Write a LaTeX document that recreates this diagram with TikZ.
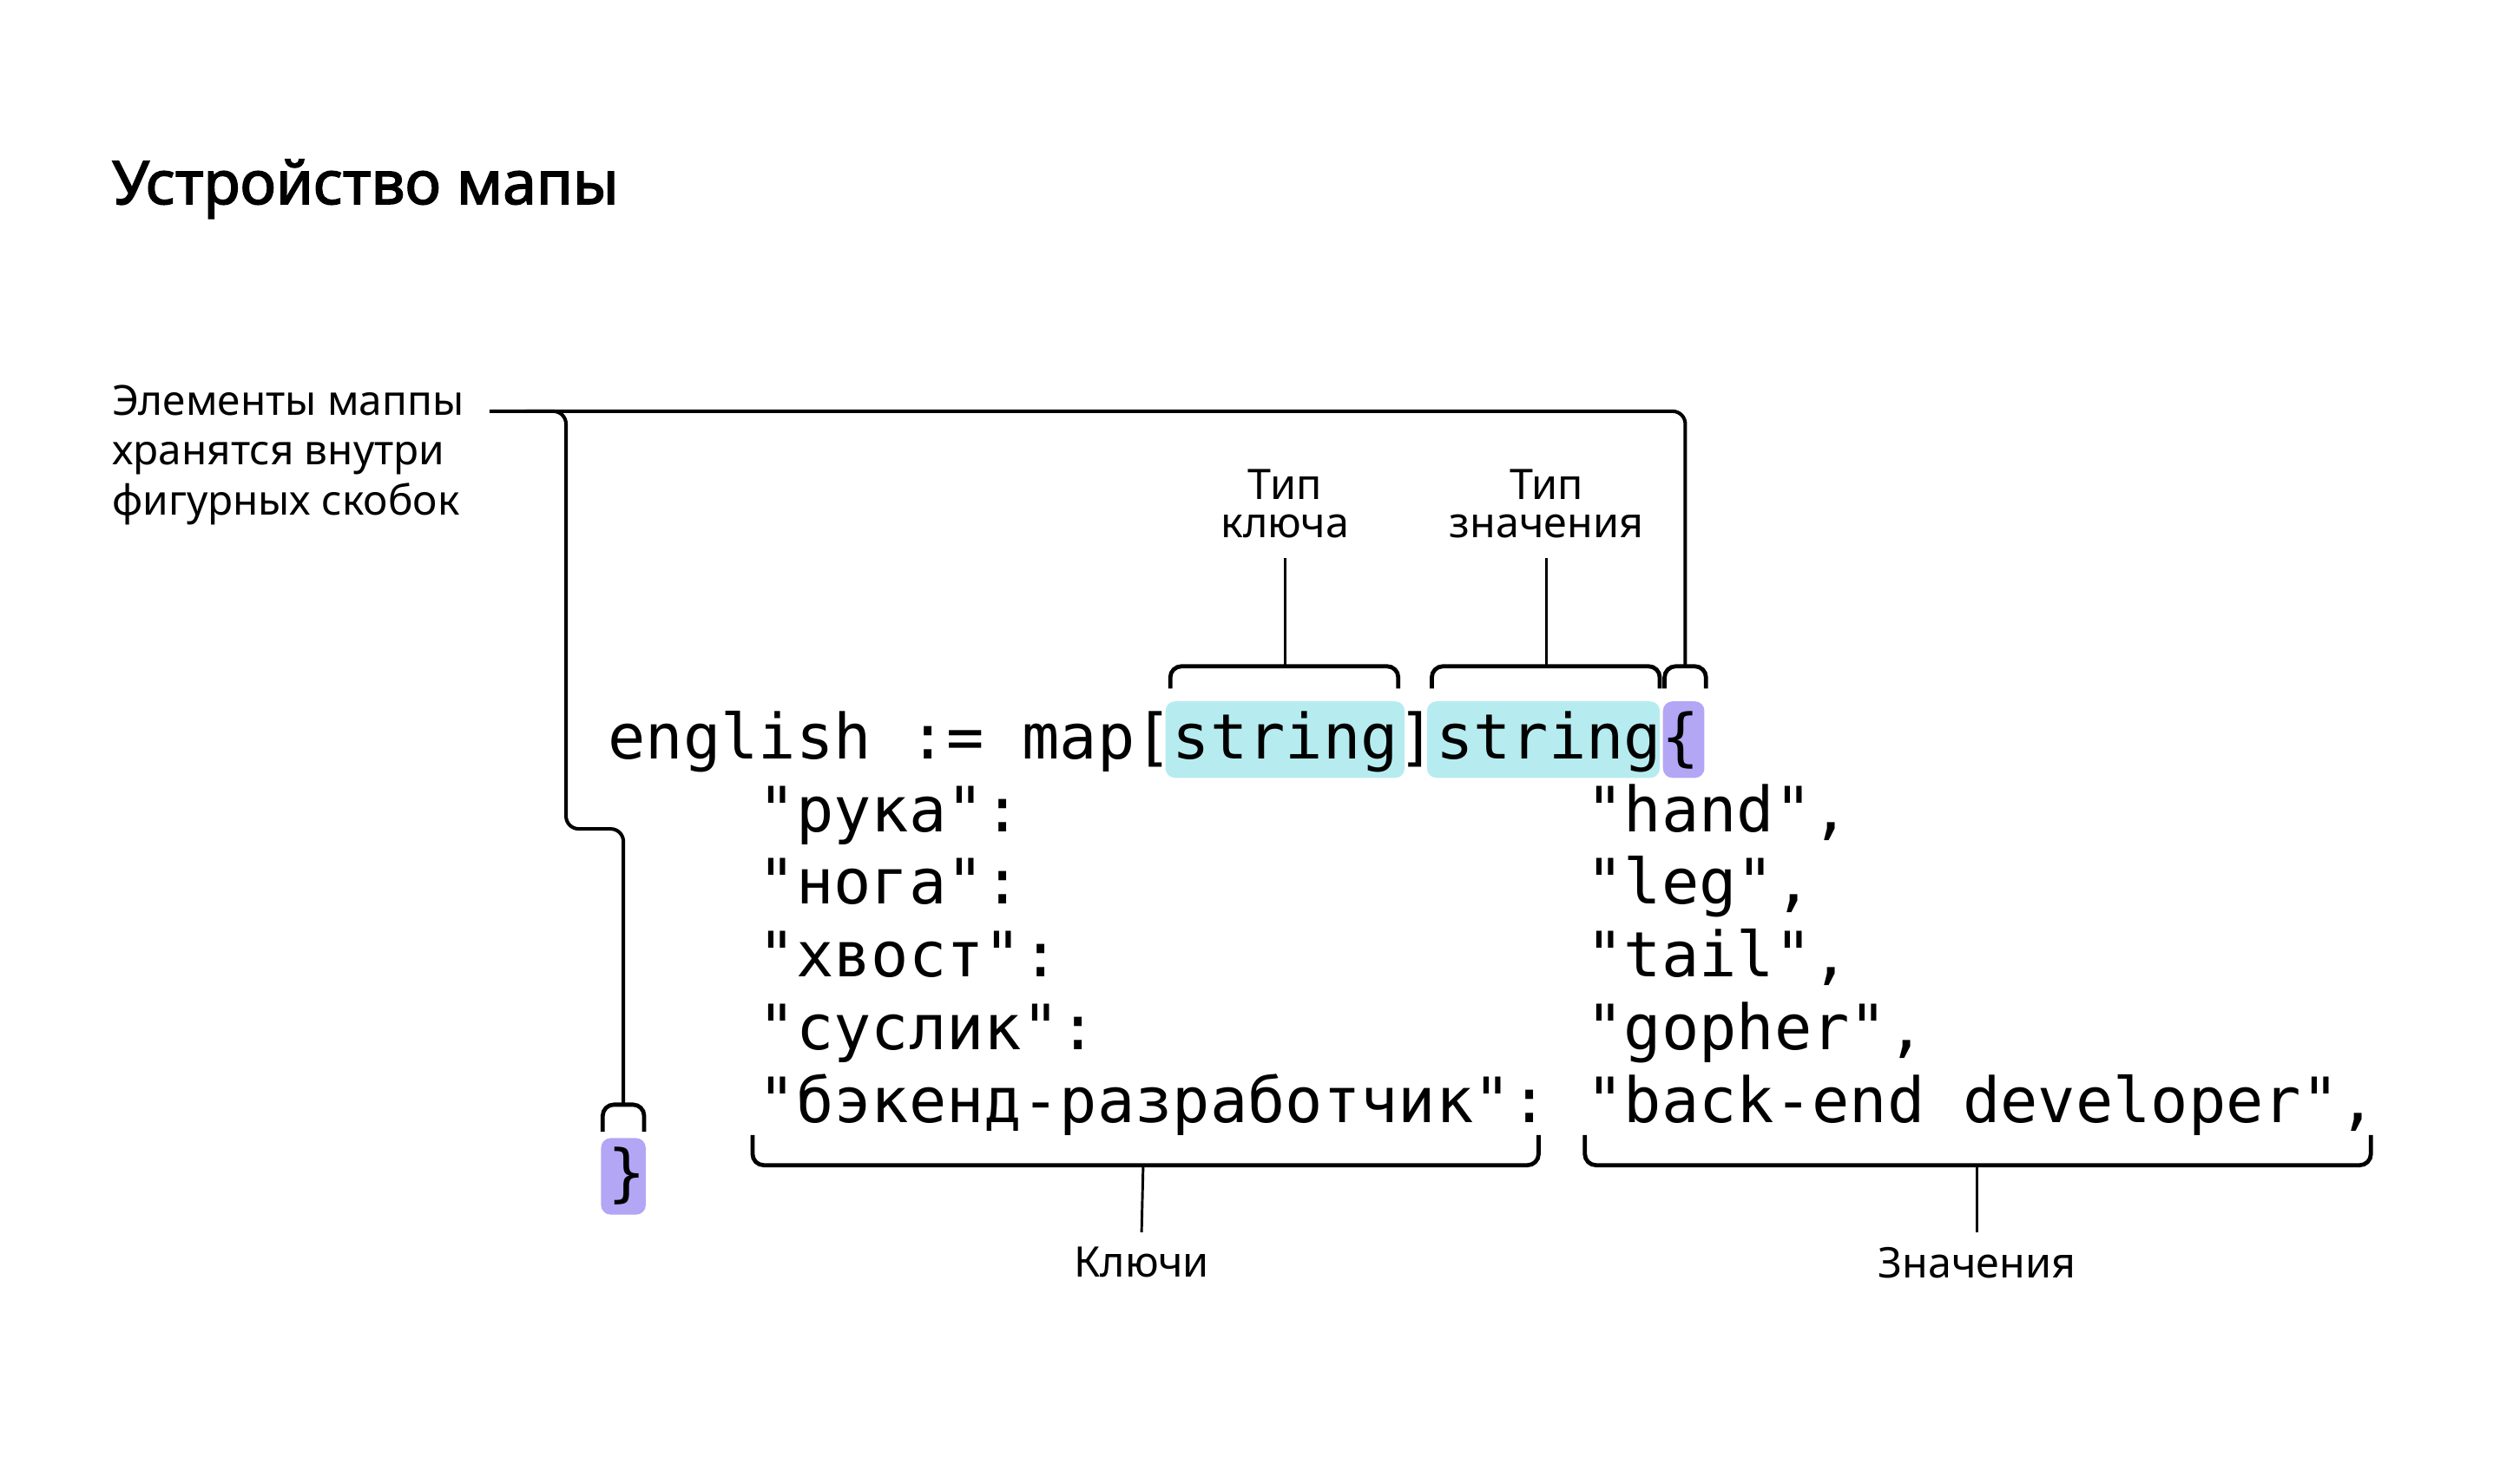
\documentclass[tikz,border=0pt]{standalone}
\usepackage{fontspec}
\setmainfont{Noto Sans}
\newfontfamily\titlefont{Noto Sans}[FakeBold=2.2]
\newfontfamily\codefont{DejaVu Sans Mono}
\definecolor{hlcyan}{HTML}{B6ECEF}
\definecolor{hlpurple}{HTML}{B3A6F5}
\begin{document}
\begin{tikzpicture}[x=0.5pt,y=-0.5pt,
  code/.style={anchor=base west,inner sep=0pt,font=\codefont\fontsize{19.6pt}{24pt}\selectfont},
  lbl/.style={inner sep=0pt,align=center,font=\fontsize{13.2pt}{12pt}\selectfont},
  hl/.style={rounded corners=3pt,inner sep=0pt,minimum height=24pt},
  brk/.style={line width=1.3pt,rounded corners=3.5pt},
  stem/.style={line width=0.8pt},
  conn/.style={line width=1.1pt,rounded corners=4pt}]
\useasboundingbox (0,0) rectangle (1568,931);
% title
\node[anchor=base west,inner sep=0pt,font=\titlefont\fontsize{18.9pt}{24pt}\selectfont] (title) at (70,128) {Устройство мапы};
% side label
\node[anchor=north west,inner sep=0pt,align=left,font=\fontsize{13pt}{15.75pt}\selectfont] (side) at (70,241) {Элементы маппы\\хранятся внутри\\фигурных скобок};
% highlights
\node[hl,fill=hlcyan,minimum width=75pt] (h1) at (806,464) {};
\node[hl,fill=hlcyan,minimum width=73pt] (h2) at (968,464) {};
\node[hl,fill=hlpurple,minimum width=13pt] (h3) at (1056,464) {};
\node[hl,fill=hlpurple,minimum width=14pt] (h4) at (391,738) {};
% code
\node[code] (l1) at (381,476) {english := map[string]string\{};
\node[code] (k1) at (475.4,521.6) {"рука":};
\node[code] (k2) at (475.4,567.2) {"нога":};
\node[code] (k3) at (475.4,612.8) {"хвост":};
\node[code] (k4) at (475.4,658.4) {"суслик":};
\node[code] (k5) at (475.4,704) {"бэкенд-разработчик":};
\node[code] (v1) at (994.6,521.6) {"hand",};
\node[code] (v2) at (994.6,567.2) {"leg",};
\node[code] (v3) at (994.6,612.8) {"tail",};
\node[code] (v4) at (994.6,658.4) {"gopher",};
\node[code] (v5) at (994.6,704) {"back-end developer",};
\node[code] (l7) at (381,749.6) {\}};
% labels
\node[lbl,anchor=south] (tk) at (806,338) {Тип\\ключа};
\node[lbl,anchor=south] (tv) at (970,338) {Тип\\значения};
\node[lbl,anchor=north] (kk) at (716,782) {Ключи};
\node[lbl,anchor=north] (vv) at (1240,782) {Значения};
% brackets
\draw[brk] (734,432) -- (734,418) -- (877,418) -- (877,432);
\draw[brk] (898,432) -- (898,418) -- (1041,418) -- (1041,432);
\draw[brk] (1044,432) -- (1044,418) -- (1070,418) -- (1070,432);
\draw[brk] (378,710) -- (378,693) -- (404,693) -- (404,710);
\draw[brk] (472,712) -- (472,731) -- (965,731) -- (965,712);
\draw[brk] (994,712) -- (994,731) -- (1487,731) -- (1487,712);
\coordinate (bk) at (806,418);
\coordinate (bv) at (970,418);
\coordinate (bo) at (1057,418);
\coordinate (bc) at (391,693);
\coordinate (bkeys) at (717,731);
\coordinate (bvals) at (1240,731);
\coordinate (c0) at (307,258);
% stems
\draw[stem] (bk) -- ([yshift=-6pt]tk.south);
\draw[stem] (bv) -- ([yshift=-6pt]tv.south);
\draw[stem] (bkeys) -- ([yshift=4.5pt]kk.north);
\draw[stem] (bvals) -- ([yshift=4.5pt]vv.north);
% connectors
\draw[conn] (c0) -- (bo |- c0) -- (bo);
\draw[conn] (330,258) -- (355,258) -- (355,520) -- (391,520) -- (bc);
\end{tikzpicture}
\end{document}
